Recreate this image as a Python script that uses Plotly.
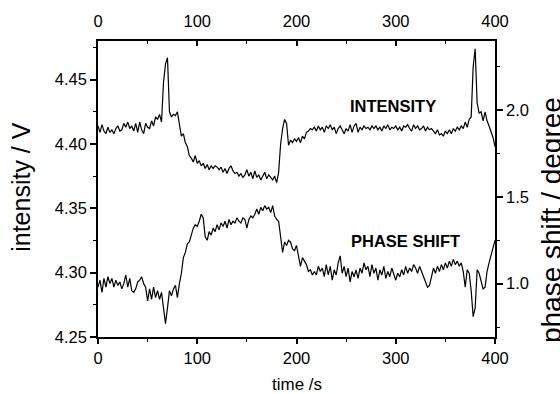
import plotly.graph_objects as go

# ---- data ----
time_s = list(range(0, 401, 2))

intensity_V = [
    4.414, 4.409, 4.415, 4.410, 4.408, 4.413, 4.409, 4.411, 4.408, 4.412,  # 0-18
    4.414, 4.410, 4.411, 4.416, 4.413, 4.417, 4.412, 4.414, 4.410, 4.416,  # 20-38
    4.409, 4.417, 4.411, 4.408, 4.416, 4.413, 4.412, 4.418, 4.414, 4.421,  # 40-58
    4.419, 4.423, 4.417, 4.448, 4.462, 4.467, 4.425, 4.421, 4.423, 4.422,  # 60-78
    4.425, 4.417, 4.406, 4.408, 4.401, 4.398, 4.391, 4.389, 4.386, 4.391,  # 80-98
    4.385, 4.387, 4.383, 4.385, 4.381, 4.384, 4.380, 4.383, 4.381, 4.383,  # 100-118
    4.382, 4.380, 4.382, 4.378, 4.381, 4.377, 4.381, 4.383, 4.379, 4.377,  # 120-138
    4.378, 4.375, 4.377, 4.374, 4.376, 4.380, 4.375, 4.378, 4.373, 4.379,  # 140-158
    4.374, 4.376, 4.372, 4.375, 4.378, 4.373, 4.376, 4.374, 4.372, 4.375,  # 160-178
    4.370, 4.378, 4.400, 4.412, 4.419, 4.416, 4.399, 4.403, 4.401, 4.404,  # 180-198
    4.402, 4.405, 4.401, 4.406, 4.404, 4.409, 4.410, 4.412, 4.411, 4.413,  # 200-218
    4.410, 4.414, 4.411, 4.413, 4.409, 4.414, 4.412, 4.415, 4.411, 4.413,  # 220-238
    4.408, 4.412, 4.414, 4.411, 4.408, 4.412, 4.410, 4.415, 4.409, 4.414,  # 240-258
    4.416, 4.409, 4.413, 4.411, 4.414, 4.412, 4.413, 4.411, 4.414, 4.412,  # 260-278
    4.414, 4.411, 4.413, 4.410, 4.414, 4.412, 4.415, 4.411, 4.413, 4.412,  # 280-298
    4.414, 4.411, 4.413, 4.410, 4.414, 4.413, 4.415, 4.412, 4.410, 4.415,  # 300-318
    4.412, 4.414, 4.411, 4.412, 4.414, 4.410, 4.413, 4.411, 4.412, 4.410,  # 320-338
    4.408, 4.411, 4.407, 4.408, 4.406, 4.410, 4.408, 4.411, 4.408, 4.412,  # 340-358
    4.410, 4.413, 4.411, 4.414, 4.412, 4.417, 4.413, 4.419, 4.421, 4.460,  # 360-378
    4.474, 4.432, 4.424, 4.425, 4.418, 4.425, 4.418, 4.414, 4.409, 4.405,  # 380-398
    4.398,                                                                  # 400
]

phase_deg = [
    0.98, 1.02, 0.95, 1.03, 0.98, 1.04, 1.00, 1.03, 0.98, 1.02,  # 0-18
    0.99, 1.01, 0.97, 1.00, 1.05, 0.98, 1.03, 0.96, 0.95, 0.97,  # 20-38
    1.01, 1.02, 1.04, 1.00, 0.98, 0.90, 0.97, 0.91, 0.98, 0.92,  # 40-58
    0.96, 0.91, 0.95, 0.84, 0.77, 0.86, 0.96, 0.93, 0.97, 0.99,  # 60-78
    0.92, 1.00, 1.06, 1.15, 1.18, 1.23, 1.24, 1.28, 1.32, 1.34,  # 80-98
    1.33, 1.36, 1.40, 1.38, 1.27, 1.25, 1.30, 1.28, 1.32, 1.30,  # 100-118
    1.34, 1.31, 1.35, 1.33, 1.36, 1.32, 1.37, 1.34, 1.36, 1.35,  # 120-138
    1.38, 1.36, 1.35, 1.38, 1.37, 1.32, 1.37, 1.39, 1.38, 1.40,  # 140-158
    1.43, 1.40, 1.44, 1.42, 1.45, 1.43, 1.44, 1.41, 1.45, 1.39,  # 160-178
    1.37, 1.36, 1.27, 1.18, 1.24, 1.22, 1.25, 1.24, 1.20, 1.19,  # 180-198
    1.22, 1.16, 1.10, 1.15, 1.13, 1.11, 1.07, 1.08, 1.05, 1.07,  # 200-218
    1.05, 1.10, 1.07, 1.09, 1.04, 1.11, 1.05, 1.10, 1.02, 1.08,  # 220-238
    1.05, 1.12, 1.16, 1.06, 1.10, 1.04, 1.09, 1.01, 1.07, 1.04,  # 240-258
    1.08, 1.03, 1.09, 1.06, 1.12, 1.08, 1.10, 1.04, 1.11, 1.06,  # 260-278
    1.09, 1.02, 1.08, 1.05, 1.10, 1.03, 1.07, 1.04, 1.09, 1.05,  # 280-298
    1.02, 1.06, 1.04, 1.08, 1.05, 1.10, 1.06, 1.09, 1.07, 1.11,  # 300-318
    1.09, 1.06, 1.10, 1.07, 1.04, 1.01, 0.98, 0.99, 1.04, 1.09,  # 320-338
    1.06, 1.10, 1.07, 1.11, 1.08, 1.12, 1.09, 1.13, 1.10, 1.14,  # 340-358
    1.11, 1.13, 1.10, 1.12, 1.07, 0.98, 1.08, 1.06, 0.96, 0.81,  # 360-378
    0.86, 1.08, 1.06, 1.02, 0.97, 0.98, 1.07, 1.12, 1.16, 1.20,  # 380-398
    1.25,                                                        # 400
]

x_ticks = [0, 100, 200, 300, 400]
left_ticks = [4.25, 4.30, 4.35, 4.40, 4.45]
right_ticks = [1.0, 1.5, 2.0]

FONT = "Liberation Sans, Arial, Helvetica, sans-serif"
INK = "black"

fig = go.Figure()
fig.add_trace(go.Scatter(x=time_s, y=intensity_V, mode="lines",
                         line=dict(color=INK, width=1.2), xaxis="x", yaxis="y",
                         hoverinfo="skip"))
fig.add_trace(go.Scatter(x=time_s, y=phase_deg, mode="lines",
                         line=dict(color=INK, width=1.2), xaxis="x", yaxis="y2",
                         hoverinfo="skip"))
# helper so the top axis is drawn
fig.add_trace(go.Scatter(x=[None], y=[None], xaxis="x2", yaxis="y",
                         mode="lines", hoverinfo="skip"))

tickfont = dict(family=FONT, size=16.5, color=INK)
common = dict(showgrid=False, zeroline=False, showline=True, linecolor=INK,
              linewidth=1.5, tickcolor=INK, tickwidth=1.5, tickfont=tickfont)

def label(text, x, y, size, angle=0):
    return dict(text=text, xref="paper", yref="paper", x=x, y=y,
                xanchor="center", yanchor="middle", textangle=angle,
                showarrow=False, font=dict(family=FONT, size=size, color=INK))

fig.update_layout(
    width=560, height=394,
    margin=dict(l=98, r=65, t=38, b=57),
    paper_bgcolor="white", plot_bgcolor="white",
    showlegend=False,
    xaxis=dict(range=[0, 400], tickvals=x_ticks, ticks="outside", ticklen=5,
               minor=dict(dtick=50, ticks="outside", ticklen=3, tickwidth=1.2,
                          tickcolor=INK),
               **common),
    xaxis2=dict(range=[0, 400], tickvals=x_ticks, ticks="inside", ticklen=5,
                overlaying="x", side="top", anchor="y", ticklabelstandoff=6,
                minor=dict(dtick=50, ticks="inside", ticklen=3, tickwidth=1.2,
                           tickcolor=INK),
                **common),
    yaxis=dict(range=[4.25, 4.48], tickvals=left_ticks, tickformat=".2f",
               ticks="outside", ticklen=6,
               minor=dict(dtick=0.025, tick0=4.25, ticks="outside", ticklen=3,
                          tickwidth=1.2, tickcolor=INK),
               **common),
    yaxis2=dict(range=[0.6925, 2.399], tickvals=right_ticks, tickformat=".1f",
                overlaying="y", side="right", anchor="x",
                ticks="outside", ticklen=6,
                minor=dict(dtick=0.25, tick0=0, ticks="outside", ticklen=3,
                           tickwidth=1.2, tickcolor=INK),
                **common),
    annotations=[
        label("<b>INTENSITY</b>", 0.743, 0.779, 16.5),
        label("<b>PHASE SHIFT</b>", 0.7745, 0.325, 16.5),
        label("intensity / V", -0.196, 0.508, 25, -90),
        label("phase shift / degree", 1.141, 0.395, 28, -90),
        label("time /s", 0.5, -0.159, 17),
    ],
)

fig.write_html("out.html", config={"displayModeBar": False},
               post_script="document.body.style.margin='0';")
